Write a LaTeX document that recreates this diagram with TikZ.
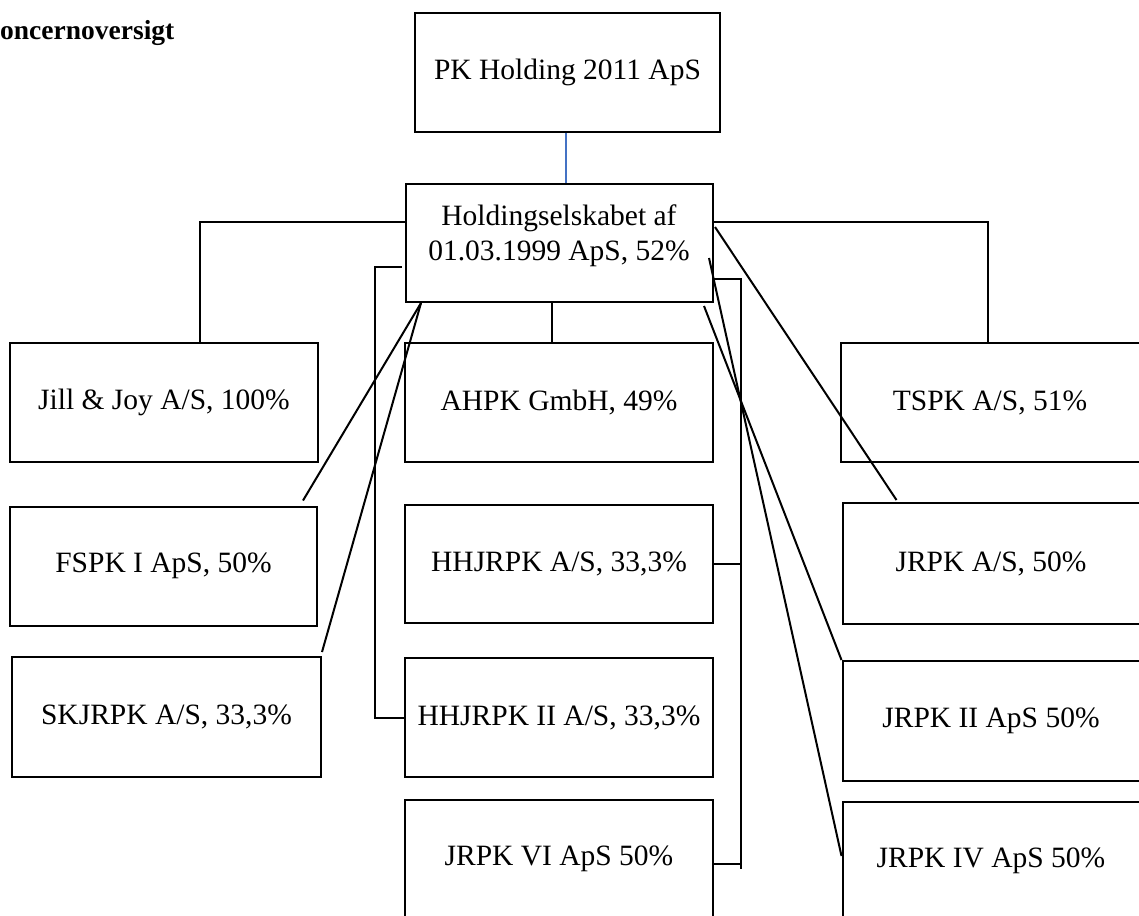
\documentclass[tikz,border=0pt]{standalone}
\usepackage{fontspec}
\setmainfont{Liberation Serif}
\usetikzlibrary{calc}
\definecolor{wordblue}{RGB}{68,114,196}
\begin{document}
\begin{tikzpicture}[x=1pt,y=-1pt,
  box/.style={draw=black, line width=2pt, inner sep=0pt, minimum height=119pt, align=center, font=\fontsize{29.5}{35}\selectfont},
  conn/.style={draw=black, line width=2pt},
  txt/.style={inner sep=0pt, align=center, font=\fontsize{29.5}{35}\selectfont}]
\useasboundingbox (0,0) rectangle (1139,915);
\fill[white] (0,0) rectangle (1139,915);

\node[anchor=base west, inner sep=0pt, font=\fontsize{27.5}{33}\selectfont\bfseries] (title) at (0,40) {oncernoversigt};

\node[box, minimum width=305pt] (pk) at (567.5,72.5) {PK Holding 2011 ApS};
\node[box, minimum width=307pt, minimum height=118pt] (hold) at (559.5,243) {};
\node[txt, anchor=north] (holdtxt) at (559,205) {Holdingselskabet af\\01.03.1999 ApS, 52\%};

\node[box, minimum width=308pt] (jill) at (164,402.5) {Jill \& Joy A/S, 100\%};
\node[box, minimum width=308pt] (ahpk) at (559,402.5) {AHPK GmbH, 49\%};
\node[box, minimum width=299pt] (tspk) at (990,402.5) {TSPK A/S, 51\%};

\node[box, minimum width=307pt] (fspk) at (163.5,566) {FSPK I ApS, 50\%};
\node[box, minimum width=308pt, minimum height=118pt] (hhj) at (559,564) {HHJRPK A/S, 33,3\%};
\node[box, minimum width=297pt, minimum height=121pt] (jrpka) at (991,563.5) {JRPK A/S, 50\%};

\node[box, minimum width=309pt, minimum height=120pt] (skj) at (166.5,717) {SKJRPK A/S, 33,3\%};
\node[box, minimum width=308pt] (hhj2) at (559,717.5) {HHJRPK II A/S, 33,3\%};
\node[box, minimum width=297pt, minimum height=120pt] (jrpk2) at (991,721) {JRPK II ApS 50\%};

\node[box, minimum width=308pt, minimum height=118pt] (jrpk6) at (559,859) {JRPK VI ApS 50\%};
\node[box, minimum width=297pt, minimum height=118pt] (jrpk4) at (991,861) {JRPK IV ApS 50\%};

% blue link
\draw[wordblue, line width=2pt] ($(pk.south)+(-1.5,0)$) -- ($(pk.south |- hold.north)+(-1.5,0)$);

% tree lines
\draw[conn] ($(hold.north west)+(0,39)$) -| ($(jill.north)+(36,0)$);
\draw[conn] ($(hold.north east)+(0,39)$) -| ($(tspk.north)+(-2,0)$);
\draw[conn] ($(hold.south)+(-7.5,0)$) -- ($(hold.south |- ahpk.north)+(-7.5,0)$);

% left bracket
\coordinate (lbt) at (375,267);
\draw[conn] ($(hold.west |- lbt)+(-3,0)$) -- (lbt) |- (hhj2.west);

% right bracket
\coordinate (rbt) at (741,279);
\coordinate (rbb) at (741,869);
\draw[conn] (hold.east |- rbt) -- (rbt) -- (rbb);
\draw[conn] (hhj.east) -- (hhj.east -| rbt);
\draw[conn] ($(jrpk6.north east)+(0,65)$) -- ($(jrpk6.north east -| rbt)+(-1,65)$);

% diagonals
\draw[conn] ($(hold.south west)+(16,0)$) -- ($(fspk.north east)+(-15,-5)$);
\draw[conn] ($(hold.south west)+(16,0)$) -- ($(skj.north east)+(0,-4)$);
\draw[conn] ($(hold.north east)+(1,44)$) -- ($(jrpka.north west)+(55,-2)$);
\draw[conn] ($(hold.north east)+(-5,75)$) -- ($(jrpk4.north west)+(0,55)$);
\draw[conn] ($(hold.south east)+(-10,3)$) -- (jrpk2.north west);
\end{tikzpicture}
\end{document}
